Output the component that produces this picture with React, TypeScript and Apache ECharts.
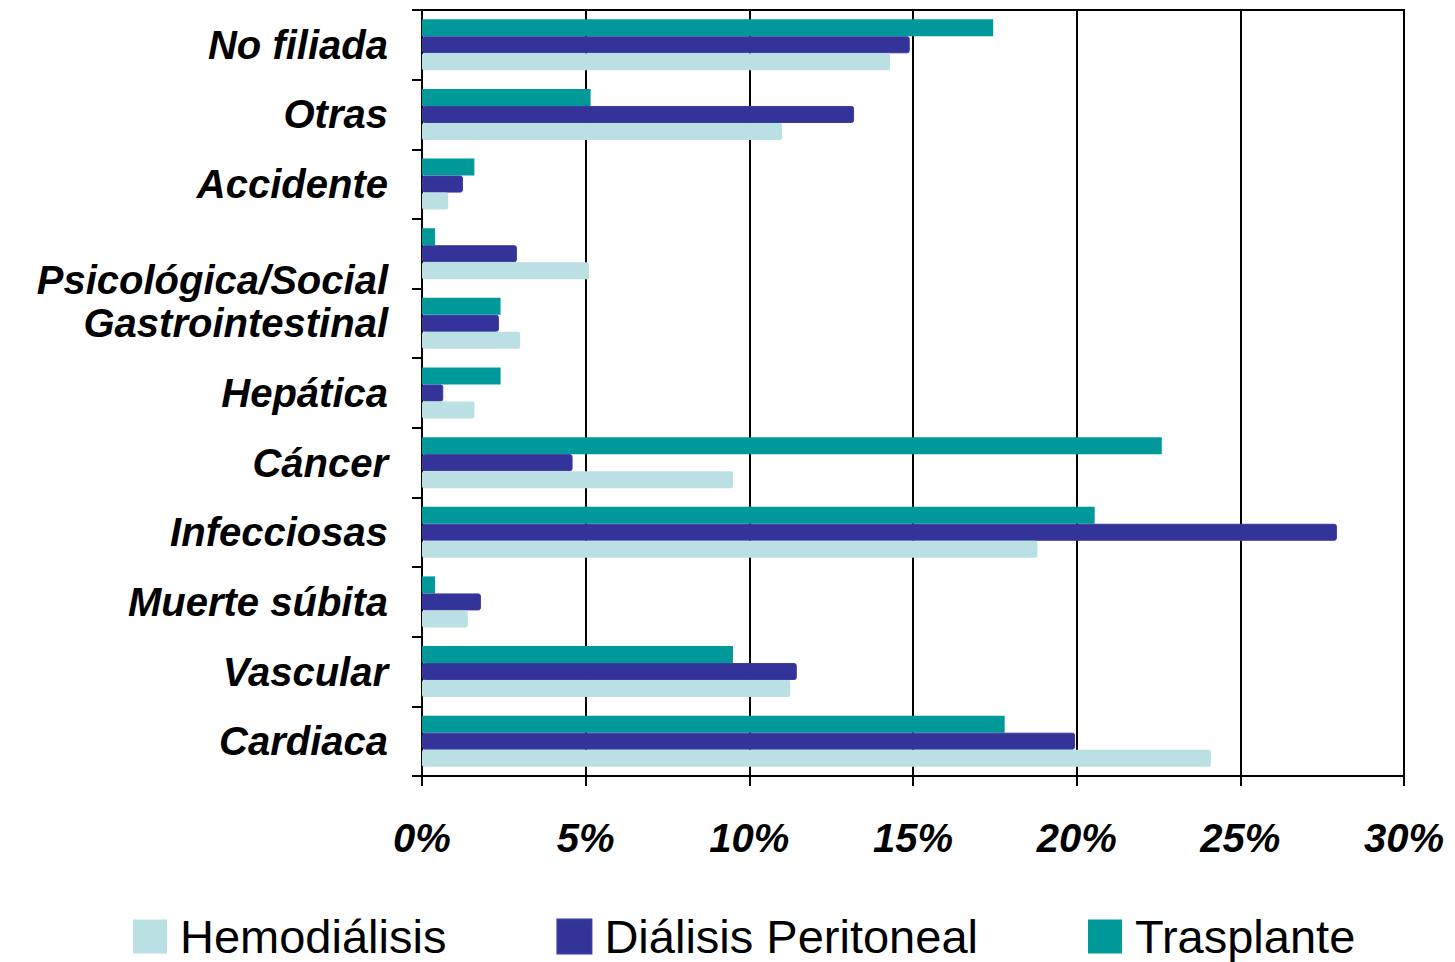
import React, { useEffect, useRef } from "react";
import * as echarts from "echarts";

// categories from bottom to top (ECharts category y-axis starts at the bottom)
const categories = [
  "Cardiaca",
  "Vascular",
  "Muerte súbita",
  "Infecciosas",
  "Cáncer",
  "Hepática",
  "Gastrointestinal",
  "Psicológica/Social",
  "Accidente",
  "Otras",
  "No filiada",
];

const hemodialisis = [24.1, 11.25, 1.4, 18.8, 9.5, 1.6, 3.0, 5.1, 0.8, 11.0, 14.3];
const dialisisPeritoneal = [19.95, 11.45, 1.8, 27.95, 4.6, 0.65, 2.35, 2.9, 1.25, 13.2, 14.9];
const trasplante = [17.8, 9.5, 0.4, 20.55, 22.6, 2.4, 2.4, 0.4, 1.6, 5.15, 17.45];

const seriesNames = ["Hemodiálisis", "Diálisis Peritoneal", "Trasplante"];
const xTicks = [0, 5, 10, 15, 20, 25, 30];

export default function App() {
  const ref = useRef<HTMLDivElement>(null);

  useEffect(() => {
    if (!ref.current) return;
    const chart = echarts.init(ref.current, undefined, { renderer: "svg" });
    const labelFont = {
      fontFamily: "Liberation Sans, Arial, sans-serif",
      fontSize: 40,
      fontWeight: "bold" as const,
      fontStyle: "italic" as const,
      color: "#000",
    };
    chart.setOption({
      animation: false,
      backgroundColor: "#fff",
      grid: {
        left: 422,
        right: 51,
        top: 10,
        bottom: 186,
        show: true,
        borderColor: "#000",
        borderWidth: 2,
        backgroundColor: "transparent",
      },
      legend: {
        left: 128,
        top: 908,
        itemWidth: 34,
        itemHeight: 34,
        itemGap: 110,
        icon: "rect",
        data: seriesNames,
        textStyle: {
          fontFamily: "Liberation Sans, Arial, sans-serif",
          fontSize: 47,
          color: "#000",
          padding: [0, 0, 0, 8],
        },
      },
      xAxis: {
        type: "value",
        min: xTicks[0],
        max: xTicks[xTicks.length - 1],
        interval: 5,
        axisLine: { show: true, lineStyle: { color: "#000", width: 2 } },
        axisTick: { show: true, length: 10, lineStyle: { color: "#000", width: 2 } },
        splitLine: { show: true, lineStyle: { color: "#000", width: 2 } },
        axisLabel: {
          ...labelFont,
          margin: 42,
          formatter: "{value}%",
        },
      },
      yAxis: {
        type: "category",
        data: categories,
        axisLine: { show: true, lineStyle: { color: "#000", width: 2 } },
        axisTick: { show: true, length: 10, lineStyle: { color: "#000", width: 2 } },
        splitLine: { show: false },
        axisLabel: {
          ...labelFont,
          margin: 34,
          formatter: (v: string) =>
            v === "Psicológica/Social" ? `{s|${v}}` : `{n|${v}}`,
          rich: {
            n: { ...labelFont },
            s: { ...labelFont, padding: [52, 0, 0, 0] },
          },
        },
      },
      series: [
        {
          name: seriesNames[2],
          type: "bar",
          data: trasplante,
          barWidth: 17,
          barGap: "0%",
          itemStyle: { color: "#009999" },
        },
        {
          name: seriesNames[1],
          type: "bar",
          data: dialisisPeritoneal,
          barWidth: 17,
          barGap: "0%",
          itemStyle: {
            color: "#333399",
            borderColor: "#3a3aa0",
            borderWidth: 1,
            borderRadius: 2,
          },
        },
        {
          name: seriesNames[0],
          type: "bar",
          data: hemodialisis,
          barWidth: 17,
          barGap: "0%",
          itemStyle: { color: "#bbe0e3", borderRadius: 2 },
        },
      ],
    });
    return () => chart.dispose();
  }, []);

  return (
    <div
      ref={ref}
      style={{ position: "absolute", left: 0, top: 0, width: 1455, height: 962 }}
    />
  );
}
